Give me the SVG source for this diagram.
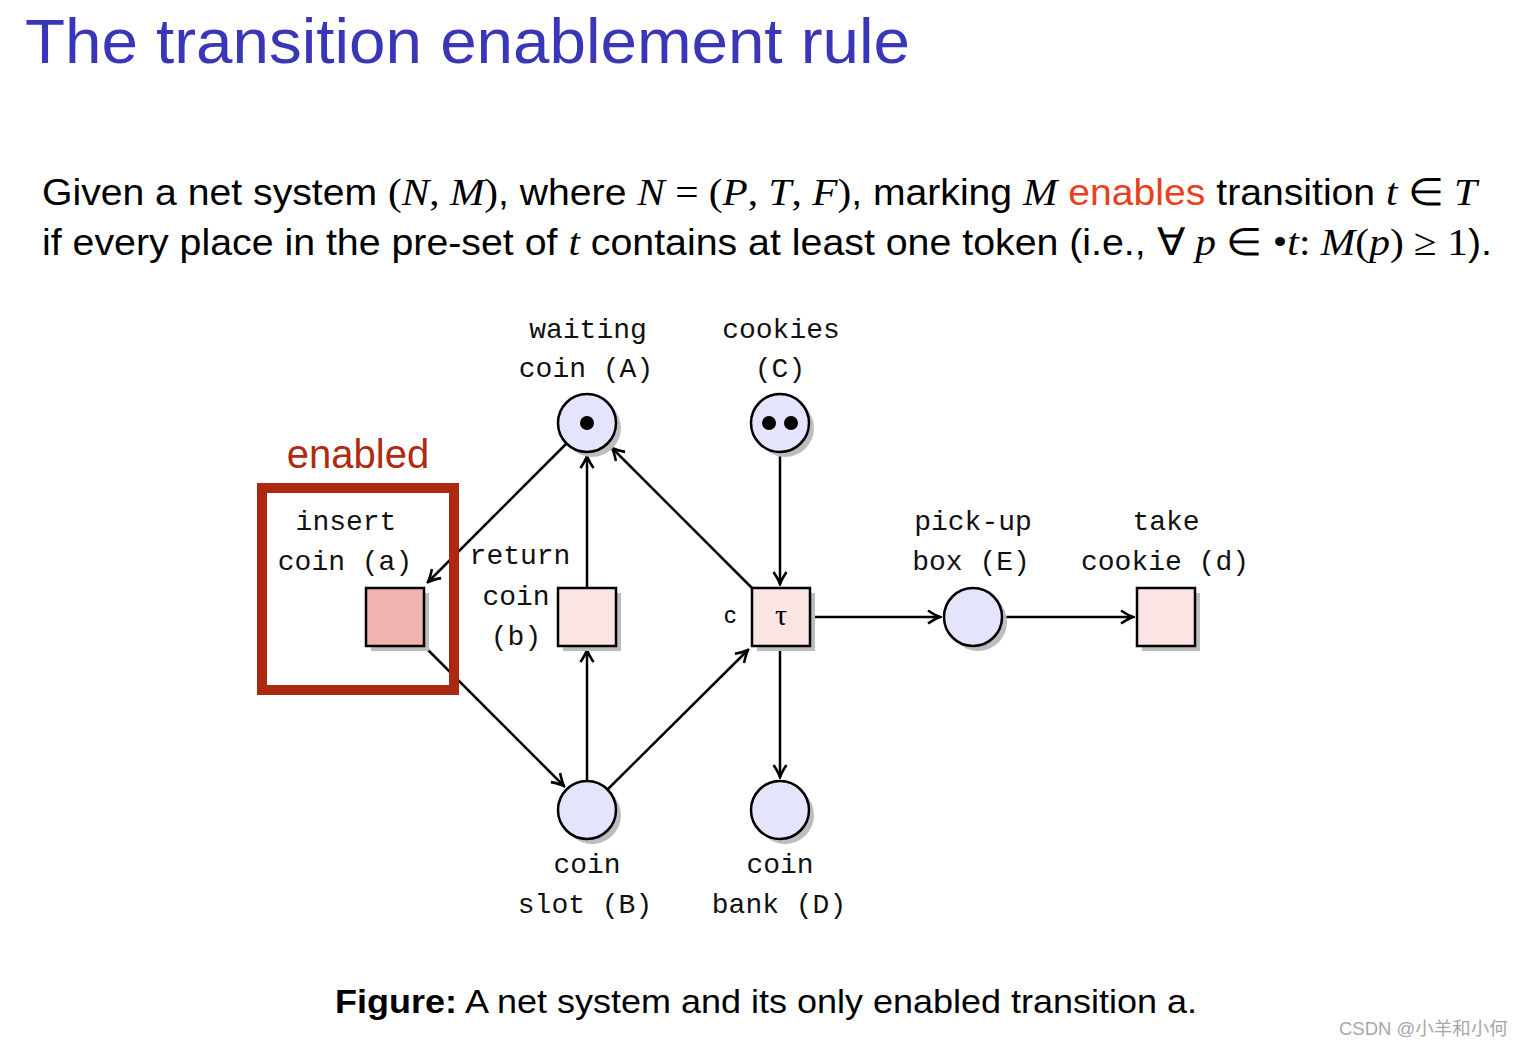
<svg xmlns="http://www.w3.org/2000/svg" width="1525" height="1047" viewBox="0 0 1525 1047">
<style>
.lbl{font-family:"Liberation Mono","DejaVu Sans Mono",monospace;font-size:28px;fill:#111;text-anchor:middle}
.pl{fill:#e4e4fc;stroke:#000;stroke-width:2.5}
.tr{fill:#fae4e4;stroke:#000;stroke-width:2.5}
.sh{fill:#bdbdbd}
.arc{stroke:#000;stroke-width:2.5;fill:none}
.body{font-family:"Liberation Sans","Open Sans",sans-serif;font-size:36px;fill:#000}
.m{font-family:"Liberation Serif",serif;font-style:italic;font-size:38px}
.mr{font-family:"Liberation Serif",serif;font-size:38px}
</style>
<defs>
<marker id="ah" viewBox="-14 -8 16 16" refX="0" refY="0" markerWidth="16" markerHeight="16" markerUnits="userSpaceOnUse" orient="auto">
<path d="M-12,-6.5 Q-5,-1.8 0,0 Q-5,1.8 -12,6.5" fill="none" stroke="#000" stroke-width="2.6"/>
</marker>
</defs>
<rect width="1525" height="1047" fill="#fff"/>
<text x="25" y="63" font-family="Liberation Sans, sans-serif" font-size="63" fill="#3a36b8" textLength="885" lengthAdjust="spacingAndGlyphs">The transition enablement rule</text>
<text class="body" x="42" y="205" textLength="1435" lengthAdjust="spacingAndGlyphs">Given a net system <tspan class="mr">(</tspan><tspan class="m">N</tspan><tspan class="mr">, </tspan><tspan class="m">M</tspan><tspan class="mr">)</tspan>, where <tspan class="m">N</tspan><tspan class="mr"> = (</tspan><tspan class="m">P</tspan><tspan class="mr">, </tspan><tspan class="m">T</tspan><tspan class="mr">, </tspan><tspan class="m">F</tspan><tspan class="mr">)</tspan>, marking <tspan class="m">M</tspan> <tspan fill="#e8401c">enables</tspan> transition <tspan class="m">t</tspan><tspan class="mr"> ∈ </tspan><tspan class="m">T</tspan></text>
<text class="body" x="42" y="255" textLength="1450" lengthAdjust="spacingAndGlyphs">if every place in the pre-set of <tspan class="m">t</tspan> contains at least one token (i.e., <tspan class="mr">∀ </tspan><tspan class="m">p</tspan><tspan class="mr"> ∈ •</tspan><tspan class="m">t</tspan><tspan class="mr">: </tspan><tspan class="m">M</tspan><tspan class="mr">(</tspan><tspan class="m">p</tspan><tspan class="mr">) ≥ 1</tspan>).</text>

<g id="connectors">
<line class="arc" x1="567" y1="443" x2="428" y2="582" marker-end="url(#ah)"/>
<line class="arc" x1="424" y1="646" x2="564" y2="786" marker-end="url(#ah)"/>
<line class="arc" x1="587" y1="781" x2="587" y2="650" marker-end="url(#ah)"/>
<line class="arc" x1="587" y1="588" x2="587" y2="456" marker-end="url(#ah)"/>
<line class="arc" x1="608" y1="789" x2="748" y2="650" marker-end="url(#ah)"/>
<line class="arc" x1="752" y1="588" x2="612" y2="448" marker-end="url(#ah)"/>
<line class="arc" x1="780" y1="452" x2="780" y2="584" marker-end="url(#ah)"/>
<line class="arc" x1="780" y1="646" x2="780" y2="777" marker-end="url(#ah)"/>
<line class="arc" x1="810" y1="617" x2="940" y2="617" marker-end="url(#ah)"/>
<line class="arc" x1="1002" y1="617" x2="1133" y2="617" marker-end="url(#ah)"/>
</g>

<g id="enabled-box">
<rect x="262" y="488" width="192" height="202" fill="none" stroke="#ab2a0f" stroke-width="10"/>
<text x="358" y="468" font-family="Liberation Sans, sans-serif" font-size="40" fill="#b02a10" text-anchor="middle">enabled</text>
</g>

<g id="place-A">
<circle class="sh" cx="592" cy="428" r="29"/>
<circle class="pl" cx="587" cy="423" r="29"/>
<circle cx="587" cy="423" r="7"/>
<text class="lbl" x="588" y="338">waiting</text>
<text class="lbl" x="586" y="377">coin (A)</text>
</g>
<g id="place-C">
<circle class="sh" cx="785" cy="428" r="29"/>
<circle class="pl" cx="780" cy="423" r="29"/>
<circle cx="769" cy="423" r="7"/>
<circle cx="791" cy="423" r="7"/>
<text class="lbl" x="781" y="338">cookies</text>
<text class="lbl" x="780" y="377">(C)</text>
</g>
<g id="place-B">
<circle class="sh" cx="592" cy="815" r="29"/>
<circle class="pl" cx="587" cy="810" r="29"/>
<text class="lbl" x="587" y="873">coin</text>
<text class="lbl" x="585" y="913">slot (B)</text>
</g>
<g id="place-D">
<circle class="sh" cx="785" cy="815" r="29"/>
<circle class="pl" cx="780" cy="810" r="29"/>
<text class="lbl" x="780" y="873">coin</text>
<text class="lbl" x="779" y="913">bank (D)</text>
</g>
<g id="place-E">
<circle class="sh" cx="978" cy="622" r="29"/>
<circle class="pl" cx="973" cy="617" r="29"/>
<text class="lbl" x="973" y="530">pick-up</text>
<text class="lbl" x="971" y="570">box (E)</text>
</g>

<g id="trans-a">
<rect class="sh" x="371" y="593" width="58" height="58"/>
<rect class="tr" x="366" y="588" width="58" height="58" style="fill:#f0b4b0"/>
<text class="lbl" x="346" y="530">insert</text>
<text class="lbl" x="345" y="570">coin (a)</text>
</g>
<g id="trans-b">
<rect class="sh" x="563" y="593" width="58" height="58"/>
<rect class="tr" x="558" y="588" width="58" height="58"/>
<text class="lbl" x="520" y="564">return</text>
<text class="lbl" x="516" y="605">coin</text>
<text class="lbl" x="516" y="645">(b)</text>
</g>
<g id="trans-tau">
<rect class="sh" x="757" y="593" width="58" height="58"/>
<rect class="tr" x="752" y="588" width="58" height="58"/>
<text x="781" y="625" font-family="Liberation Serif, serif" font-size="30" text-anchor="middle">τ</text>
<text x="730" y="623" font-family="Liberation Sans, sans-serif" font-size="24" text-anchor="middle">c</text>
</g>
<g id="trans-d">
<rect class="sh" x="1142" y="593" width="58" height="58"/>
<rect class="tr" x="1137" y="588" width="58" height="58"/>
<text class="lbl" x="1166" y="530">take</text>
<text class="lbl" x="1165" y="570">cookie (d)</text>
</g>

<text x="335" y="1013" font-family="Liberation Sans, sans-serif" font-size="34" textLength="862" lengthAdjust="spacingAndGlyphs"><tspan font-weight="bold">Figure:</tspan> A net system and its only enabled transition a.</text>
<text x="1339" y="1035" font-family="Liberation Sans, 'Noto Sans CJK SC', sans-serif" font-size="18.5" fill="#a8a8a8">CSDN @小羊和小何</text>
</svg>
